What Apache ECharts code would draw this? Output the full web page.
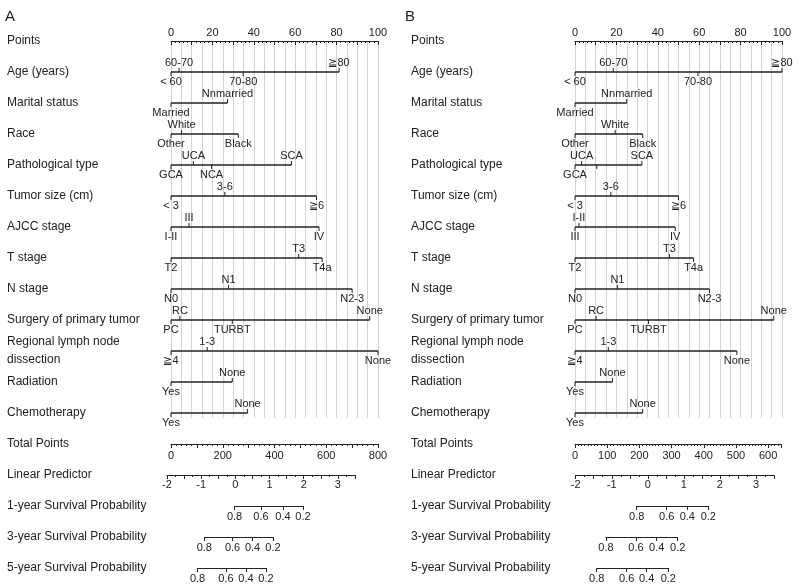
<!DOCTYPE html>
<html><head><meta charset="utf-8">
<script src="https://cdn.jsdelivr.net/npm/echarts@6/dist/echarts.min.js"></script>
<style>html,body{margin:0;padding:0;background:#fff}#c{width:800px;height:588px}</style>
</head><body><div id="c"></div>
<script>
// ---------- data ----------
const rowNames = ['Points','Age (years)','Marital status','Race','Pathological type','Tumor size (cm)','AJCC stage','T stage','N stage','Surgery of primary tumor','Regional lymph node\ndissection','Radiation','Chemotherapy'];
const bottomNames = ['Total Points','Linear Predictor','1-year Survival Probability','3-year Survival Probability','5-year Survival Probability'];

const ageLevels = ['< 60','60-70','70-80','≧80'];
const agePtsA = [0, 3.9, 34.9, 81.2];
const agePtsB = [0, 18.5, 59.4, 100];

const maritalLevels = ['Married','Nnmarried'];
const maritalPtsA = [0, 27.3];
const maritalPtsB = [0, 25.0];

const raceLevels = ['Other','White','Black'];
const racePtsA = [0, 5.1, 32.5];
const racePtsB = [0, 19.4, 32.7];

const pathLevels = ['GCA','UCA','NCA','SCA'];
const pathPtsA = [0, 10.8, 19.6, 58.2];
const pathPtsB = [0, 3.2, 10.5, 32.3];
const pathHiddenB = ['NCA'];

const sizeLevels = ['< 3','3-6','≧6'];
const sizePtsA = [0, 26.0, 70.3];
const sizePtsB = [0, 17.3, 50.0];

const ajccLevels = ['I-II','III','IV'];
const ajccPtsA = [0, 8.7, 71.5];
const ajccPtsB = [1.9, 0, 48.4];

const tLevels = ['T2','T3','T4a'];
const tPtsA = [0, 61.7, 73.0];
const tPtsB = [0, 45.6, 57.3];

const nLevels = ['N0','N1','N2-3'];
const nPtsA = [0, 27.8, 87.5];
const nPtsB = [0, 20.5, 65.0];

const surgLevels = ['PC','RC','TURBT','None'];
const surgPtsA = [0, 4.3, 29.6, 96.0];
const surgPtsB = [0, 10.2, 35.5, 96.0];

const lnLevels = ['≧4','1-3','None'];
const lnPtsA = [0, 17.5, 100];
const lnPtsB = [0, 16.1, 78.2];

const radLevels = ['Yes','None'];
const radPtsA = [0, 29.6];
const radPtsB = [0, 18.1];

const chemoLevels = ['Yes','None'];
const chemoPtsA = [0, 37.0];
const chemoPtsB = [0, 32.7];

const totalMaxA = 800, totalMaxB = 640;
const lpMin = -2, lpMax = 3.5;

const survLabels = ['0.8','0.6','0.4','0.2'];
const surv1yLpA = [-0.023, 0.749, 1.392, 1.977];
const surv3yLpA = [-0.909, -0.082, 0.503, 1.099];
const surv5yLpA = [-1.105, -0.275, 0.310, 0.895];
const surv1yLpB = [-0.308, 0.524, 1.095, 1.677];
const surv3yLpB = [-1.160, -0.328, 0.246, 0.829];
const surv5yLpB = [-1.418, -0.586, -0.031, 0.568];

// ---------- build ----------
const FONT = '"Liberation Sans", Arial, Helvetica, sans-serif';
const INK = '#222';

function vars(panel) {
  const P = panel === 'A';
  return [
    {row:1, labels:ageLevels, pts:P?agePtsA:agePtsB},
    {row:2, labels:maritalLevels, pts:P?maritalPtsA:maritalPtsB},
    {row:3, labels:raceLevels, pts:P?racePtsA:racePtsB},
    {row:4, labels:pathLevels, pts:P?pathPtsA:pathPtsB, hidden:P?[]:pathHiddenB},
    {row:5, labels:sizeLevels, pts:P?sizePtsA:sizePtsB},
    {row:6, labels:ajccLevels, pts:P?ajccPtsA:ajccPtsB},
    {row:7, labels:tLevels, pts:P?tPtsA:tPtsB},
    {row:8, labels:nLevels, pts:P?nPtsA:nPtsB},
    {row:9, labels:surgLevels, pts:P?surgPtsA:surgPtsB},
    {row:10, labels:lnLevels, pts:P?lnPtsA:lnPtsB},
    {row:11, labels:radLevels, pts:P?radPtsA:radPtsB},
    {row:12, labels:chemoLevels, pts:P?chemoPtsA:chemoPtsB}
  ];
}

const grids = [], xAxes = [], yAxes = [], series = [];
const ROW = 31, TOP = 41;

function lineStyle() { return {color: INK, width: 1}; }

function bottomYAxis(gi, name, margin) {
  yAxes.push({gridIndex: gi, type:'category', data:[name], axisLine:{show:false}, axisTick:{show:false}, splitLine:{show:false},
    axisLabel:{align:'left', margin: margin, fontSize:12, color:INK, fontFamily:FONT}});
}

function buildPanel(panel, cfg) {
  // main grid
  const gi = grids.length;
  grids.push({left: cfg.left, top: TOP, width: cfg.ptsWidth, height: ROW * 12.16});
  const xi = xAxes.length;
  xAxes.push({gridIndex: gi, type:'value', position:'top', min:0, max:100, interval:10,
    axisLine:{show:true, onZero:false, lineStyle: lineStyle()},
    axisTick:{show:true, inside:true, length:4, lineStyle: lineStyle()},
    minorTick:{show:true, splitNumber:5, length:2, lineStyle: lineStyle()},
    axisLabel:{margin:3, fontSize:11, color:INK, fontFamily:FONT, formatter: v => (v % 20 === 0 ? String(v) : '')},
    splitLine:{show:false}});
  xAxes.push({gridIndex: gi, type:'value', position:'bottom', min:0, max:100, interval:5,
    axisLine:{show:false, onZero:false}, axisTick:{show:false}, axisLabel:{show:false},
    splitLine:{show:true, lineStyle:{color:'#d3d3d3', width:1}}});
  const yi = yAxes.length;
  yAxes.push({gridIndex: gi, type:'value', inverse:true, min:0, max:12.16, interval:1,
    axisLine:{show:false}, axisTick:{show:false}, splitLine:{show:false},
    axisLabel:{align:'left', margin: cfg.left - cfg.labelX, fontSize:12, color:INK, fontFamily:FONT, lineHeight:18,
      formatter: v => (Number.isInteger(v) && rowNames[v]) ? rowNames[v] : ''}});

  const segData = [], lvlData = [], lvlText = [];
  vars(panel).forEach(vr => {
    const order = vr.pts.map((p, i) => i).sort((a, b) => vr.pts[a] - vr.pts[b]);
    segData.push([Math.min(...vr.pts), Math.max(...vr.pts), vr.row]);
    order.forEach((idx, k) => {
      const side = (k % 2 === 0) ? -1 : 1; // -1 below, 1 above
      lvlData.push([vr.pts[idx], vr.row, side]);
      const hidden = vr.hidden && vr.hidden.indexOf(vr.labels[idx]) >= 0;
      lvlText.push(hidden ? '' : vr.labels[idx]);
    });
  });
  series.push({type:'custom', xAxisIndex: xi, yAxisIndex: yi, silent:true, data: segData, z:3,
    renderItem: (params, api) => {
      const a = api.coord([api.value(0), api.value(2)]);
      const b = api.coord([api.value(1), api.value(2)]);
      return {type:'line', shape:{x1:a[0], y1:a[1], x2:b[0], y2:b[1]}, style:{stroke:INK, lineWidth:1.3}};
    }});
  series.push({type:'custom', xAxisIndex: xi, yAxisIndex: yi, silent:true, data: lvlData, z:4,
    renderItem: (params, api) => {
      const p = api.coord([api.value(0), api.value(1)]);
      const side = api.value(2);
      return {type:'group', children:[
        {type:'line', shape:{x1:p[0], y1:p[1], x2:p[0], y2:p[1] - side * 4}, style:{stroke:INK, lineWidth:1}},
        {type:'text', style:{text: lvlText[params.dataIndex], x:p[0], y:p[1] - side * 9.5, align:'center', verticalAlign:'middle',
          fontSize:11, fontFamily:FONT, fill:INK}}
      ]};
    }});

  // Total points
  let y = TOP + ROW * 13;
  let g = grids.length;
  grids.push({left: cfg.left, top: y - 1, width: cfg.totalWidth, height: 1});
  const totalMax = panel === 'A' ? totalMaxA : totalMaxB;
  xAxes.push({gridIndex: g, type:'value', position:'bottom', min:0, max:totalMax, interval:100,
    axisLine:{show:true, onZero:false, lineStyle: lineStyle()},
    axisTick:{show:true, length:4, lineStyle: lineStyle()},
    minorTick:{show:true, splitNumber: panel === 'A' ? 5 : 10, length:2, lineStyle: lineStyle()},
    axisLabel:{margin:6, fontSize:11, color:INK, fontFamily:FONT,
      formatter: v => (panel === 'A' ? (v % 200 === 0 ? String(v) : '') : String(v))},
    splitLine:{show:false}});
  bottomYAxis(g, bottomNames[0], cfg.left - cfg.labelX);

  // Linear predictor
  y = TOP + ROW * 14;
  g = grids.length;
  grids.push({left: cfg.lpLeft, top: y - 1, width: cfg.lpWidth, height: 1});
  xAxes.push({gridIndex: g, type:'value', position:'bottom', min:lpMin, max:lpMax, interval:0.5,
    axisLine:{show:true, onZero:false, lineStyle: lineStyle()},
    axisTick:{show:true, length:4, lineStyle: lineStyle()},
    minorTick:{show:true, splitNumber:2, length:2, lineStyle: lineStyle()},
    axisLabel:{margin:4, fontSize:11, color:INK, fontFamily:FONT, formatter: v => (Number.isInteger(v) ? String(v) : '')},
    splitLine:{show:false}});
  bottomYAxis(g, bottomNames[1], cfg.lpLeft - cfg.labelX);

  // survival axes
  const survs = panel === 'A' ? [surv1yLpA, surv3yLpA, surv5yLpA] : [surv1yLpB, surv3yLpB, surv5yLpB];
  const unit = cfg.lpWidth / (lpMax - lpMin);
  survs.forEach((lp, k) => {
    const yy = TOP + ROW * (15 + k);
    const gg = grids.length;
    const left = cfg.lpLeft + (lp[0] - lpMin) * unit;
    grids.push({left: left, top: yy - 1, width: (lp[lp.length - 1] - lp[0]) * unit, height: 1});
    xAxes.push({gridIndex: gg, type:'value', position:'bottom', min: lp[0], max: lp[lp.length - 1],
      axisLine:{show:true, onZero:false, lineStyle: lineStyle()},
      axisTick:{show:true, length:4, customValues: lp, lineStyle: lineStyle()},
      axisLabel:{margin:5, fontSize:11, color:INK, fontFamily:FONT, customValues: lp, showMinLabel:true, showMaxLabel:true,
        formatter: v => { let bi = 0; lp.forEach((q, i) => { if (Math.abs(q - v) < Math.abs(lp[bi] - v)) bi = i; }); return survLabels[bi]; }},
      splitLine:{show:false}});
    bottomYAxis(gg, bottomNames[2 + k], left - cfg.labelX);
  });
}

buildPanel('A', {left:171, ptsWidth:207, totalWidth:207, lpLeft:167, lpWidth:188, labelX:7});
buildPanel('B', {left:575, ptsWidth:207, totalWidth:206, lpLeft:575.7, lpWidth:198.3, labelX:411});

const chart = echarts.init(document.getElementById('c'), null, {renderer:'canvas'});
chart.setOption({
  animation:false,
  backgroundColor:'#fff',
  title:[
    {text:'A', left:0, top:4, textStyle:{fontSize:15, fontWeight:'normal', color:INK, fontFamily:FONT}},
    {text:'B', left:400, top:4, textStyle:{fontSize:15, fontWeight:'normal', color:INK, fontFamily:FONT}}
  ],
  grid: grids, xAxis: xAxes, yAxis: yAxes, series: series
});
</script></body></html>
